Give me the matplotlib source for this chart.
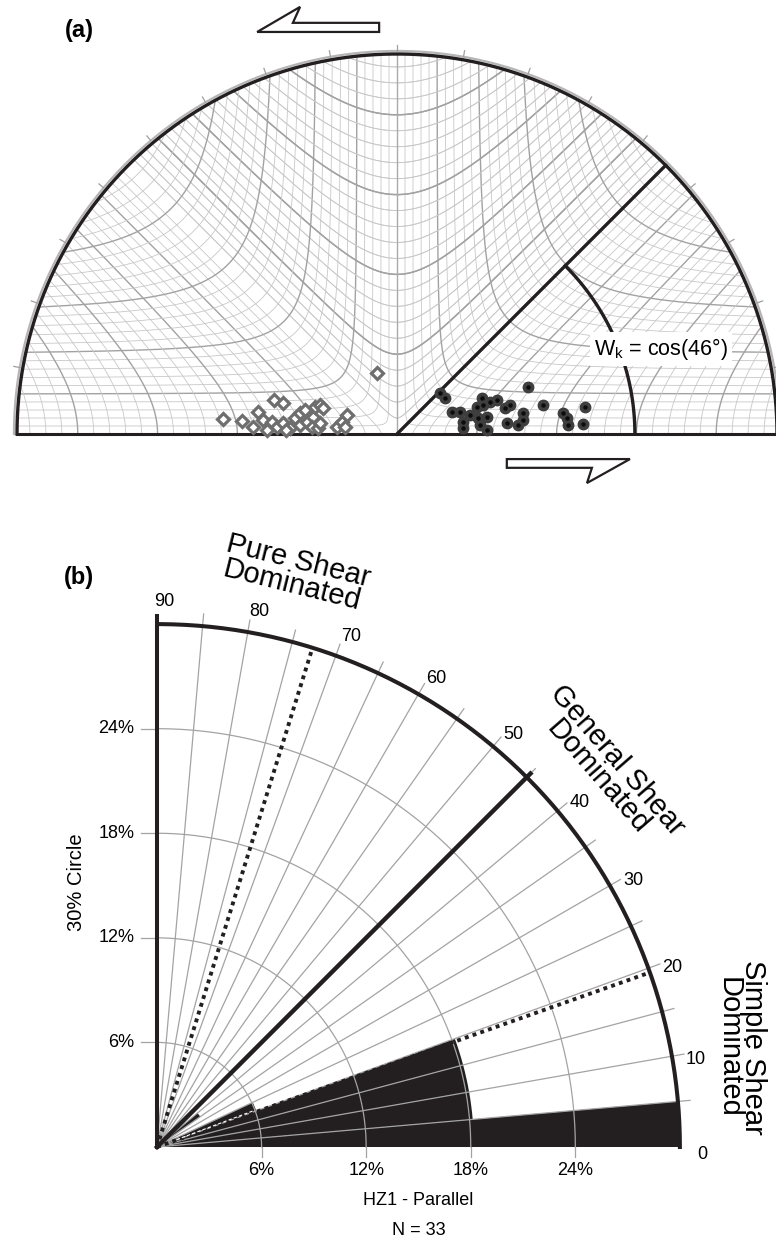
import numpy as np
import matplotlib
matplotlib.use('Agg')
import matplotlib.pyplot as plt
from matplotlib.patches import Wedge, Polygon

plt.rcParams['font.family'] = ['Liberation Sans', 'DejaVu Sans']

# ---------------- data ----------------
# (a) clasts on the hyperbolic net, unit radius = net circle
diamond_x = [-0.053, -0.458, -0.408, -0.324, -0.300, -0.366, -0.379, -0.353, -0.329, -0.316,
             -0.300, -0.282, -0.268, -0.255, -0.242, -0.255, -0.237, -0.221, -0.216, -0.203,
             -0.195, -0.224, -0.208, -0.203, -0.158, -0.145, -0.132, -0.137, -0.342, -0.292]
diamond_y = [0.161, 0.039, 0.034, 0.089, 0.082, 0.058, 0.018, 0.037, 0.032, 0.018,
             0.029, 0.016, 0.042, 0.055, 0.063, 0.024, 0.032, 0.045, 0.071, 0.076,
             0.068, 0.018, 0.016, 0.029, 0.018, 0.032, 0.050, 0.018, 0.011, 0.011]
dot_x = [0.113, 0.126, 0.145, 0.166, 0.174, 0.174, 0.192, 0.211, 0.224, 0.226,
         0.245, 0.263, 0.213, 0.218, 0.237, 0.237, 0.284, 0.297, 0.289, 0.318,
         0.332, 0.332, 0.345, 0.384, 0.447, 0.450, 0.437, 0.495, 0.489]
dot_y = [0.108, 0.095, 0.058, 0.058, 0.032, 0.016, 0.050, 0.071, 0.095, 0.076,
         0.084, 0.089, 0.042, 0.024, 0.011, 0.045, 0.068, 0.076, 0.029, 0.024,
         0.037, 0.055, 0.124, 0.076, 0.042, 0.024, 0.055, 0.071, 0.026]
apophysis_deg = 45
wk_radius = 0.626
wk_text = 'W$_\\mathregular{k}$ = cos(46°)'
net_step = 0.042

# (b) rose diagram, 5 degree bins from 0 to 90
bin_width = 5
bin_counts = [12, 6, 6, 6, 2, 0, 0, 1, 0, 0, 0, 0, 0, 0, 0, 0, 0, 0]
n_total = 33
ring_pcts = [6, 12, 18, 24]
outer_pct = 30
angle_labels = [0, 10, 20, 30, 40, 50, 60, 70, 80, 90]
solid_deg = 45
dotted_degs = [19.5, 72.7]

ink = '#231f20'
grey = '#a3a3a3'

fig = plt.figure(figsize=(7.76, 12.47), dpi=100)

# ---------------- panel (a) ----------------
axa = fig.add_axes([0, 687 / 1247, 1, 560 / 1247])
axa.set_xlim(-397 / 380, 379 / 380)
axa.set_ylim(-126 / 380, 434 / 380)
axa.axis('off')


def net_line(th, r, major):
    col = '#a2a2a2' if major else '#c8c8c8'
    lw = 1.0 if major else 0.6
    x, y = r * np.cos(th), r * np.sin(th)
    axa.plot(x, y, color=col, lw=lw, zorder=1)
    axa.plot(-x, y, color=col, lw=lw, zorder=1)


levels = np.arange(net_step, 1.0, net_step)
for k, c in enumerate(levels, start=1):
    major = k % 5 == 0
    # hyperbola-like curves r*cos(2th) = +c (vertex on the baseline)
    h = np.arccos(c) / 2
    th = np.linspace(0, h, 200)
    net_line(th, c / np.cos(2 * th), major)
    # r*cos(2th) = -c (U shapes about the vertical axis)
    th = np.linspace(np.pi / 2 - h, np.pi / 2 + h, 300)
    net_line(th, c / -np.cos(2 * th), major)
    # r*sin(2th) = c (curves hugging the axes)
    g = np.arcsin(c) / 2
    th = np.linspace(g, np.pi / 2 - g, 300)
    net_line(th, c / np.sin(2 * th), major)

axa.plot([0, 0], [0, 1], color='#aaaaaa', lw=1.0, zorder=1)

# outer grey circle with ticks
phi = np.linspace(0, np.pi, 400)
axa.plot(1.008 * np.cos(phi), 1.008 * np.sin(phi), color='#b5b5b5', lw=1.6, zorder=2, clip_on=False)
for d in range(10, 180, 10):
    c, s_ = np.cos(np.radians(d)), np.sin(np.radians(d))
    axa.plot([1.008 * c, 1.024 * c], [1.008 * s_, 1.024 * s_], color='#a0a0a0', lw=0.9, clip_on=False)

# black frame
axa.plot(np.cos(phi), np.sin(phi), color=ink, lw=2.4, zorder=4, clip_on=False)
axa.plot([-1, 1], [0, 0], color=ink, lw=2.2, zorder=4, clip_on=False)
ap = np.radians(apophysis_deg)
axa.plot([0, np.cos(ap)], [0, np.sin(ap)], color=ink, lw=2.4, zorder=4)
arc = np.linspace(0, ap, 100)
axa.plot(wk_radius * np.cos(arc), wk_radius * np.sin(arc), color=ink, lw=2.4, zorder=4)

axa.text(0.695, 0.224, wk_text, fontsize=15.5, ha='center', va='center', zorder=6,
         bbox=dict(boxstyle='square,pad=0.2', fc='white', ec='none'))

axa.plot(diamond_x, diamond_y, 'D', ms=6.5, mfc='white', mec='#6e6e6e', mew=2.3, ls='none', zorder=5)
axa.plot(dot_x, dot_y, 'o', ms=7.5, mfc='#3e3e3e', mec='#3e3e3e', ls='none', zorder=5)
axa.plot(dot_x, dot_y, 'o', ms=2.2, mfc='#0c0c0c', mec='#0c0c0c', ls='none', zorder=5)

# shear sense half arrows
top_arrow = [(-0.368, 1.058), (-0.255, 1.124), (-0.274, 1.082), (-0.047, 1.082), (-0.047, 1.058)]
bot_arrow = [(0.289, -0.066), (0.613, -0.066), (0.500, -0.129), (0.513, -0.089), (0.289, -0.089)]
for pts in (top_arrow, bot_arrow):
    axa.add_patch(Polygon(pts, closed=True, fc='white', ec=ink, lw=1.6, clip_on=False))

axa.text(-318 / 380, 404 / 380, '(a)', fontsize=17, fontweight='bold', ha='center', va='center')

# ---------------- panel (b) ----------------
sc = 17.43  # pixels per percent
axb = fig.add_axes([0, 0, 1, 687 / 1247])
axb.set_xlim(-157 / sc, 619 / sc)
axb.set_ylim(-100 / sc, 587 / sc)
axb.axis('off')

for i, c in enumerate(bin_counts):
    pct = 100.0 * c / n_total
    if pct > 0:
        # petals longer than the 30% circle are cut at the rim
        axb.add_patch(Wedge((0, 0), min(pct, outer_pct), i * bin_width, (i + 1) * bin_width,
                            fc=ink, ec='none', zorder=1))

for d in range(5, 90, 5):
    r = np.radians(d)
    axb.plot([0, 30.7 * np.cos(r)], [0, 30.7 * np.sin(r)], color=grey, lw=0.9, zorder=2)

q = np.linspace(0, np.pi / 2, 200)
for p in ring_pcts:
    axb.plot(p * np.cos(q), p * np.sin(q), color=grey, lw=0.9, zorder=2)
    axb.plot([-0.9, 0], [p, p], color=grey, lw=0.9, zorder=2)
    axb.plot([p, p], [0, -0.6], color=grey, lw=0.9, zorder=2)
    axb.text(-1.3, p, f'{p}%', fontsize=13, ha='right', va='center')
    axb.text(p, -1.35, f'{p}%', fontsize=13, ha='center', va='center')

axb.plot(outer_pct * np.cos(q), outer_pct * np.sin(q), color=ink, lw=2.9, zorder=4)
axb.plot([0, 0], [0, 30.45], color=ink, lw=2.9, zorder=4)
sr = np.radians(solid_deg)
axb.plot([0, 30.3 * np.cos(sr)], [0, 30.3 * np.sin(sr)], color=ink, lw=3.2, zorder=4)
for d in dotted_degs:
    r = np.radians(d)
    axb.plot([0, outer_pct * np.cos(r)], [0, outer_pct * np.sin(r)], color=ink, lw=2.8,
             ls=(0, (1.0, 1.1)), zorder=3)
r = np.radians(20.6)
axb.plot([1.2 * np.cos(r), 6 * np.cos(r)], [1.2 * np.sin(r), 6 * np.sin(r)], color='white',
         lw=0.8, ls=(0, (3, 2)), zorder=3)

for d in angle_labels:
    r = np.radians(d - 0.8)
    axb.text(31.3 * np.cos(r), 31.3 * np.sin(r), str(d), fontsize=13, ha='center', va='center')

axb.text(-4.59, 15.2, '30% Circle', fontsize=14.5, rotation=90, ha='center', va='center')
axb.text(15, -3.05, 'HZ1 - Parallel', fontsize=13, ha='center', va='center')
axb.text(15, -4.8, 'N = 33', fontsize=13, ha='center', va='center')

axb.text(7.92, 32.93, 'Pure Shear\nDominated', fontsize=21, rotation=-14, rotation_mode='anchor',
         ha='center', va='center', multialignment='center', linespacing=0.85)
axb.text(25.85, 21.7, 'General Shear\nDominated', fontsize=21, rotation=-49, rotation_mode='anchor',
         ha='center', va='center', multialignment='center', linespacing=0.85)
axb.text(33.51, 5.74, 'Simple Shear\nDominated', fontsize=21, rotation=-90, rotation_mode='anchor',
         ha='center', va='center', multialignment='center', linespacing=0.85)

axb.text(-4.47, 32.7, '(b)', fontsize=17, fontweight='bold', ha='center', va='center')

fig.savefig('out.png', dpi=100)
